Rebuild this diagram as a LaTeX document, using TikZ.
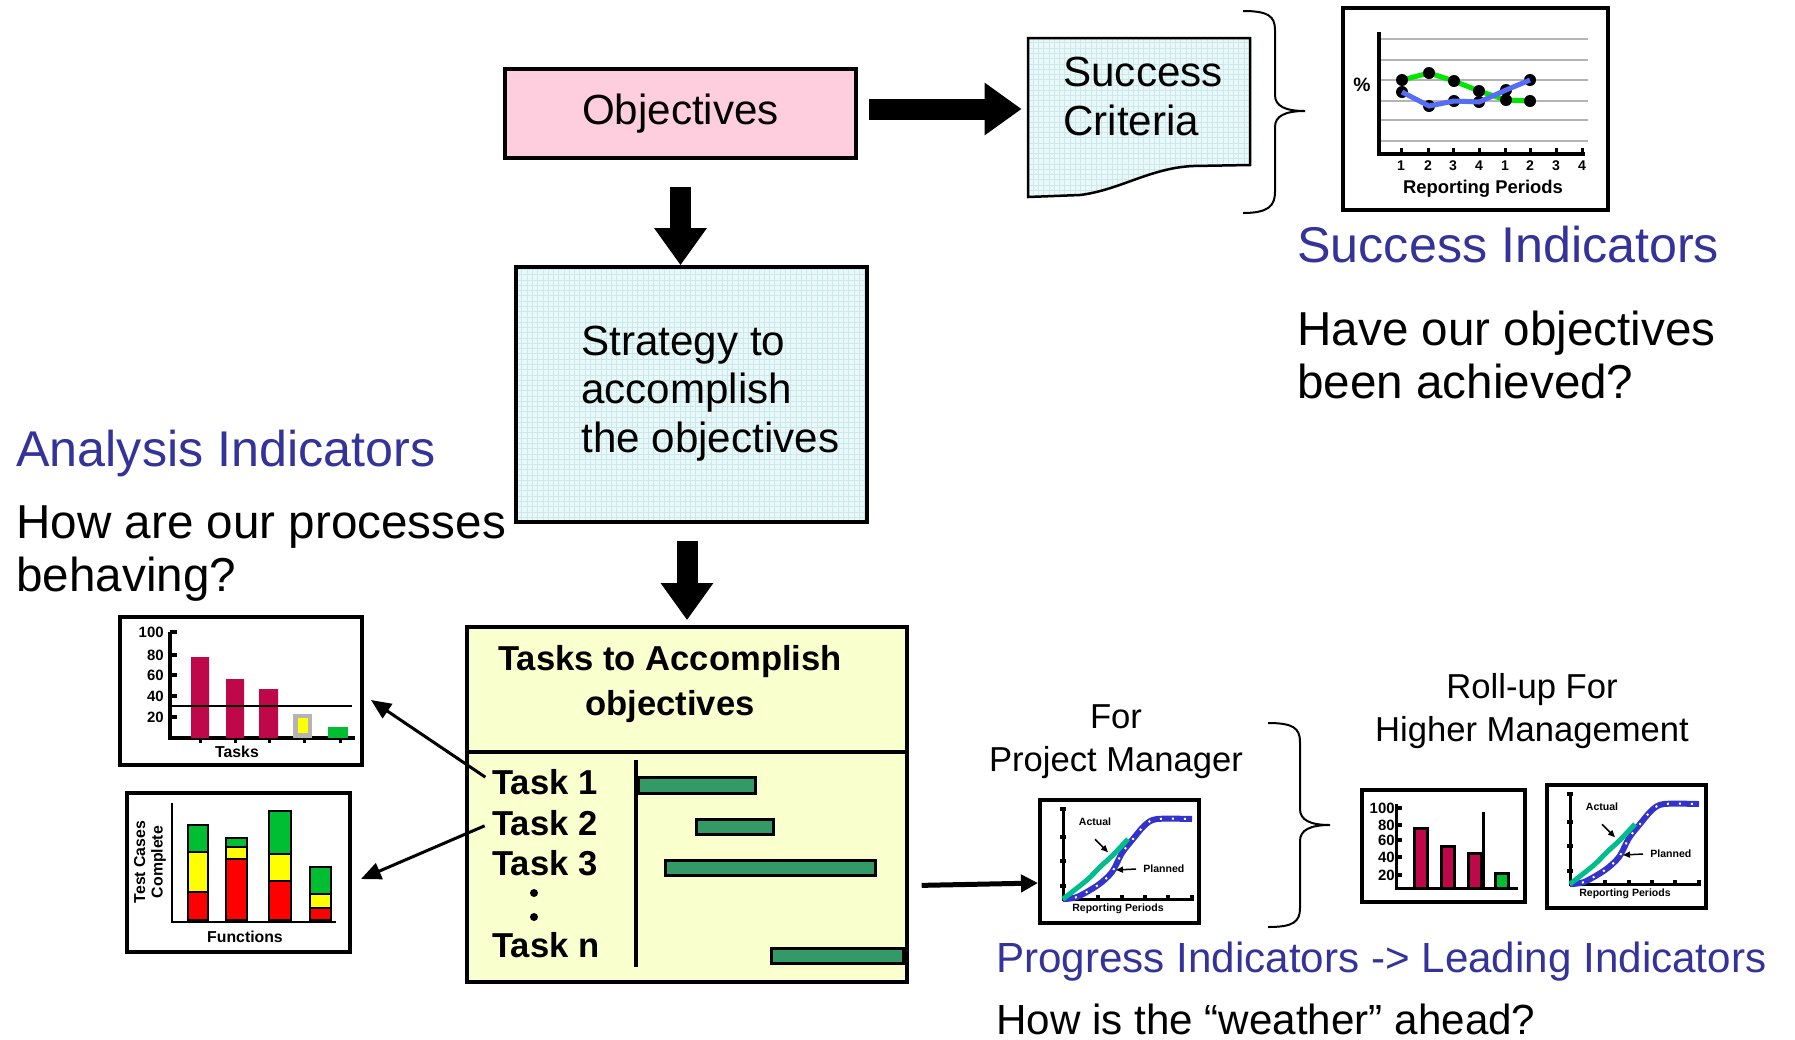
\documentclass[tikz,border=0pt]{standalone}
\usepackage{fontspec}
\setmainfont{Liberation Sans}
\usetikzlibrary{arrows.meta,positioning,patterns}

\definecolor{objpink}{RGB}{255,206,222}
\definecolor{stratcyan}{RGB}{233,248,248}
\definecolor{stratgrid}{RGB}{205,232,235}
\definecolor{taskyellow}{RGB}{250,255,206}
\definecolor{ganttgreen}{RGB}{51,153,102}
\definecolor{indblue}{RGB}{51,51,153}
\definecolor{crimson}{RGB}{190,8,74}
\definecolor{stackred}{RGB}{255,0,0}
\definecolor{stackyellow}{RGB}{255,255,0}
\definecolor{stackgreen}{RGB}{0,190,50}
\definecolor{planblue}{RGB}{51,51,204}
\definecolor{actualteal}{RGB}{0,190,140}
\definecolor{trendgreen}{RGB}{0,230,0}
\definecolor{trendblue}{RGB}{85,110,245}
\definecolor{rulegray}{RGB}{180,180,180}

\begin{document}
\begin{tikzpicture}[x=0.02cm,y=-0.02cm,on grid,
    mainbox/.style={draw, line width=0.07cm, inner sep=0pt},
    gridfill/.style={preaction={fill=stratcyan}, pattern=grid, pattern color=stratgrid},
    chartframe/.style={draw, line width=0.08cm, fill=white, inner sep=0pt},
    bigarrow/.style={line width=0.42cm, -{Triangle[width=1cm,length=0.74cm]}},
    ptrarrow/.style={line width=0.06cm, -{Triangle[width=0.34cm,length=0.4cm]}},
    curveptr/.style={line width=0.03cm, -{Triangle[width=0.12cm,length=0.14cm]}},
    headline/.style={text=indblue, anchor=base west, inner sep=0pt, font=\fontsize{28.6}{33}\selectfont},
    askline/.style={anchor=base west, align=left, inner sep=0pt, font=\fontsize{27.1}{30}\selectfont},
    boxtext/.style={anchor=base west, align=left, inner sep=0pt, font=\fontsize{24}{27.5}\selectfont},
    mgmtline/.style={anchor=base, align=center, inner sep=0pt, font=\fontsize{19.7}{24}\selectfont},
    tasklabel/.style={anchor=base west, inner sep=0pt, font=\fontsize{19.7}{23}\selectfont\bfseries},
    ganttbar/.style={draw, line width=0.06cm, fill=ganttgreen},
    stackbar/.style={draw, line width=0.05cm},
    axisnum/.style={anchor=east, inner sep=0pt, font=\fontsize{8.5}{10}\selectfont\bfseries},
    axiscap/.style={inner sep=0pt, font=\fontsize{9}{10}\selectfont\bfseries},
    curvecap/.style={inner sep=0pt, font=\fontsize{6}{7}\selectfont\bfseries},
  ]
  \fill[white] (0,0) rectangle (1795,1039);
  \useasboundingbox (0,0) rectangle (1795,1039);

  % objectives -> strategy -> tasks
  \node[mainbox, fill=objpink, minimum width=7.02cm, minimum height=1.78cm,
        font=\fontsize{24}{27.5}\selectfont] (obj) at (680.5,113.5) {Objectives};
  \node[mainbox, gridfill, minimum width=7.02cm, minimum height=5.1cm] (strat) [below=5.62cm of obj, xshift=0.22cm] {};
  \node[boxtext] (strattext) at (581,452) {Strategy to\\accomplish\\the objectives};
  \node[mainbox, fill=taskyellow, minimum width=8.8cm, minimum height=7.1cm] (tasks) [below=8.2cm of strat, xshift=-0.09cm] {};

  % success criteria sheet
  \node[minimum width=4.44cm, minimum height=3.18cm, inner sep=0pt] (crit) at (1139,117.5) {};
  \draw[mainbox, gridfill, line width=0.05cm] (1028,38) -- (1250,38) -- (1250,165) -- (1193,166)
    .. controls (1150,168) and (1120,190) .. (1080,195) -- (1028,197) -- cycle;
  \node[boxtext] (crittext) at (1063,135) {Success\\Criteria};

  \draw[bigarrow, shorten <=0.22cm, shorten >=0.12cm] ([yshift=0.09cm]obj.east) -- ([yshift=0.09cm]obj.east -| crit.west);
  \draw[bigarrow, shorten <=0.54cm] (obj.south) -- (obj.south |- strat.north);
  \draw[bigarrow, shorten <=0.34cm, shorten >=0.1cm] (strat.south -| tasks.north) -- (tasks.north);

  % task list with gantt bars
  \node[font=\fontsize{19.7}{25.5}\selectfont\bfseries, align=center, anchor=base, inner sep=0pt] (taskhead) at (670,715) {Tasks to Accomplish\\objectives};
  \draw[line width=0.08cm] (467,752) -- (907,752);
  \draw[line width=0.08cm] (636,760) -- (636,967);
  \node[tasklabel] (t1) at (492,794) {Task 1};
  \node[tasklabel] (t2) at (492,835) {Task 2};
  \node[tasklabel] (t3) at (492,875) {Task 3};
  \node[tasklabel] (tn) at (492,957) {Task n};
  \fill (534,893) circle (0.08cm) (534,917) circle (0.08cm);
  \foreach \xa/\ya/\xb/\yb in {638/777/755/793, 696/819/773/834, 665/860/875/875, 771/948/903/963}
    \draw[ganttbar] (\xa,\ya) rectangle (\xb,\yb);

  % analysis charts
  \node[chartframe, minimum width=4.84cm, minimum height=2.96cm] (taskchart) at (241,691) {};
  \draw[line width=0.07cm] (170,632) -- (170,738) -- (355,738);
  \foreach \v/\y in {100/632, 80/655, 60/675, 40/696, 20/717}{
    \draw[line width=0.07cm] (170,\y) -- (177,\y);
    \node[axisnum] (tasknum\v) at (164,\y) {\v};
  }
  \foreach \x in {200,235,269,304,340}
    \draw[line width=0.06cm] (\x,738) -- (\x,743);
  \fill[crimson] (191,657) rectangle (209,738) (226,679) rectangle (244,738) (259,689) rectangle (278,738);
  \fill[rulegray] (293,714) rectangle (312,738);
  \fill[stackyellow] (297.5,718) rectangle (307.5,733);
  \fill[stackgreen] (328,727) rectangle (348,738);
  \draw[line width=0.03cm] (170,706) -- (352,706);
  \node[axiscap] (taskcap) at (237,752) {Tasks};

  \node[chartframe, minimum width=4.46cm, minimum height=3.18cm] (funcchart) at (238.5,872.5) {};
  \draw[line width=0.04cm] (172,803) -- (172,922) -- (336,922);
  \foreach \xl/\xr/\g/\yy/\r in {188/208/825/852/892, 226/247/838/847/859, 269/291/811/854/881, 310/331/867/894/908}{
    \draw[stackbar, fill=stackgreen] (\xl,\g) rectangle (\xr,\yy);
    \draw[stackbar, fill=stackyellow] (\xl,\yy) rectangle (\xr,\r);
    \draw[stackbar, fill=stackred] (\xl,\r) rectangle (\xr,920);
  }
  \node[axiscap] (funccap) at (245,937) {Functions};
  \node[axiscap, rotate=90, align=center] (testcap) at (150,862) {Test Cases\\Complete};

  \draw[ptrarrow, shorten <=0.16cm] (t1.west) -- ([shift={(7,9)}]taskchart.east);
  \draw[ptrarrow, shorten <=0.16cm] (t2.west) -- ([shift={(9,6.5)}]funcchart.east);

  \node[headline] (analysis) at (16,466) {Analysis Indicators};
  \node[askline] (analysisq) at (16,591) {How are our processes\\behaving?};

  % success trend chart
  \draw[line width=0.04cm] (1243,11) .. controls (1268,11) and (1275,16) .. (1275,30) -- (1275,95)
    .. controls (1275,106) and (1285,111) .. (1305,111) .. controls (1285,111) and (1275,116) .. (1275,127)
    -- (1275,192) .. controls (1275,206) and (1268,213) .. (1243,213);
  \node[chartframe, minimum width=5.3cm, minimum height=4.04cm] (trend) at (1475.5,109) {};
  \foreach \y in {39,60,80,101,120,141}
    \draw[rulegray, line width=0.04cm] (1379,\y) -- (1588,\y);
  \draw[line width=0.07cm] (1379,32) -- (1379,154) -- (1585,154);
  \foreach \x/\p in {1401/1,1428/2,1453/3,1479/4,1505/1,1530/2,1556/3,1582/4}{
    \draw[line width=0.06cm] (\x,148) -- (\x,154);
    \node[inner sep=0pt, font=\fontsize{8}{9}\selectfont\bfseries] (per\x) at (\x,166) {\p};
  }
  \draw[trendgreen, line width=0.1cm] (1402,80) -- (1429,73) -- (1454,81) -- (1479,91) -- (1506,100) -- (1530,101);
  \foreach \x/\y in {1402/80,1429/73,1454/81,1479/91,1506/100,1530/101,1402/92,1429/106,1454/101,1479/102,1506/90,1530/80}
    \fill (\x,\y) circle (0.12cm);
  \draw[trendblue, line width=0.1cm] (1402,92) -- (1429,106) -- (1454,101) -- (1479,102) -- (1506,90) -- (1530,80);
  \node[inner sep=0pt, font=\fontsize{11}{12}\selectfont\bfseries] (pct) at (1362,85) {\%};
  \node[inner sep=0pt, font=\fontsize{10.5}{12}\selectfont\bfseries] (trendcap) at (1483,189) {Reporting Periods};

  \node[headline] (success) at (1297,262) {Success Indicators};
  \node[askline] (successq) at (1297,398) {Have our objectives\\been achieved?};

  % progress curves, project manager and roll-up
  \foreach \nm/\bx/\by in {pm/1040/800, rollcurve/1547/785}{
    \begin{scope}[shift={(\bx,\by)}]
      \node[chartframe, minimum width=3.18cm, minimum height=2.46cm] (\nm) at (79.5,61.5) {};
      \draw[line width=0.06cm] (23,9) -- (23,99) -- (153,99);
      \foreach \t in {9,37,61,86} \draw[line width=0.08cm] (20,\t) -- (26,\t);
      \foreach \t in {58,82,105,128,152} \draw[line width=0.08cm] (\t,95) -- (\t,101);
      \draw[planblue, line width=0.12cm, postaction={draw=white, line width=0.04cm, dash pattern=on 0.04cm off 0.2cm}]
        plot[smooth] coordinates {(23,99) (37,97) (58,85) (72,72) (82,53) (93,39) (105,25) (117,19) (152,19)};
      \draw[actualteal, line width=0.1cm] plot[smooth] coordinates {(23,99) (47,80) (60,67) (73,55) (88,39)};
      \node[curvecap] (\nm-act) at (55,22) {Actual};
      \node[curvecap, anchor=west] (\nm-plan) at (103,69) {Planned};
      \node[curvecap] (\nm-cap) at (78,109) {Reporting Periods};
      \draw[curveptr] ([shift={(0,13)}]\nm-act.south) -- ++(13,13);
      \draw[curveptr] ([xshift=-0.14cm]\nm-plan.west) -- ++(-20,1);
    \end{scope}
  }

  \draw[line width=0.1cm, -{Triangle[width=0.34cm,length=0.34cm]}] ([shift={(13,81)}]tasks.east) -- ([shift={(0,21.5)}]pm.west);

  % roll-up bar chart
  \node[chartframe, minimum width=3.26cm, minimum height=2.24cm] (rollbar) at (1443.5,846) {};
  \draw[line width=0.06cm] (1396,804) -- (1396,888) -- (1518,888);
  \foreach \v/\y in {100/808, 80/825, 60/840, 40/857, 20/875}{
    \draw[line width=0.07cm] (1396,\y) -- (1402,\y);
    \node[axisnum] (rollnum\v) at (1395,\y) {\v};
  }
  \foreach \xa/\ya/\xb in {1414/828/1427, 1441/846/1454, 1468/853/1481}
    \draw[line width=0.06cm, fill=crimson] (\xa,\ya) rectangle (\xb,888);
  \draw[line width=0.06cm, fill=stackgreen] (1495,873) rectangle (1508,888);
  \draw[line width=0.06cm] (1483,812) -- (1483,888);

  \draw[line width=0.04cm] (1268,723) .. controls (1293,723) and (1300,728) .. (1300,742) -- (1300,809)
    .. controls (1300,820) and (1310,825) .. (1330,825) .. controls (1310,825) and (1300,830) .. (1300,841)
    -- (1300,908) .. controls (1300,922) and (1293,927) .. (1268,927);

  \node[mgmtline] (pmtext) at (1116,771) {For\\Project Manager};
  \node[mgmtline] (rolltext) at (1532,741) {Roll-up For\\Higher Management};

  \node[headline, font=\fontsize{24}{28}\selectfont] (progress) at (996,972) {Progress Indicators -> Leading Indicators};
  \node[boxtext] (progressq) at (996,1034) {How is the “weather” ahead?};
\end{tikzpicture}
\end{document}
